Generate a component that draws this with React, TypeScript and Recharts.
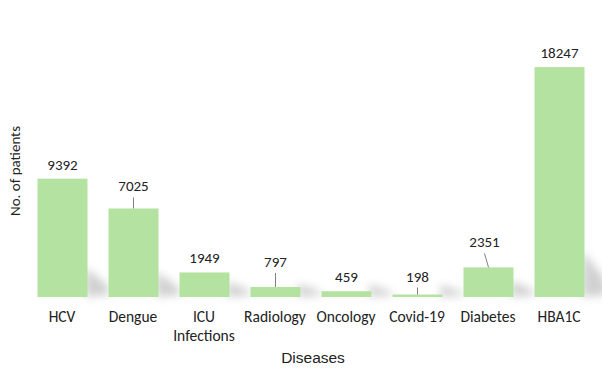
import React from 'react'
import { BarChart, Bar, XAxis, YAxis } from 'recharts';

const diseases = ['HCV', 'Dengue', 'ICU Infections', 'Radiology', 'Oncology', 'Covid-19', 'Diabetes', 'HBA1C'];
const patients = [9392, 7025, 1949, 797, 459, 198, 2351, 18247];

// how far some labels are pulled up (with a leader line), and sideways
const labelLift = [0, 8, 0, 11, 0, 4, 11, 0];
const labelShift = [0, 0, 0, 0, 0, 0, -4, 0];

const chartData = diseases.map((name, i) => ({ name, patients: patients[i] }));

const labelFont = 'Carlito, Lato, "Open Sans", sans-serif';

function BarWithShadow(props: any) {
  const { x, y, width, height, index, value } = props;
  const bottom = y + height;
  const right = x + width;
  const s = 12 + 0.15 * height;
  const lift = labelLift[index] || 0;
  const shift = labelShift[index] || 0;
  const cx = x + width / 2;
  const textY = y - 9 - lift;
  const val = Array.isArray(value) ? value[1] - value[0] : value;
  return (
    <g>
      <polygon
        points={`${right - 2},${bottom} ${right - 2},${bottom - s} ${right + 20},${bottom - s * 0.4} ${right + 22},${bottom - 2}`}
        fill="#9a9a9a"
        opacity={0.45}
        filter="url(#barShadow)"
      />
      <rect x={x} y={y} width={width} height={height} fill="#b4e3a1" />
      {lift > 0 && (
        <line x1={cx + shift} y1={textY + 6} x2={cx} y2={y} stroke="#7f7f7f" strokeWidth={1} />
      )}
      <text x={cx + shift} y={textY} textAnchor="middle" fontFamily={labelFont} fontSize={15} fill="#222">
        {val}
      </text>
    </g>
  );
}

function DiseaseTick(props: any) {
  const { x, y, payload } = props;
  const words = String(payload.value) === 'ICU Infections' ? ['ICU', 'Infections'] : [String(payload.value)];
  return (
    <text x={x} y={y + 25} textAnchor="middle" fontFamily={labelFont} fontSize={15.5} fill="#222">
      {words.map((w, i) => (
        <tspan key={w} x={x} dy={i === 0 ? 0 : 19}>{w}</tspan>
      ))}
    </text>
  );
}

function App() {
  return (
    <div style={{ position: 'absolute', left: 0, top: 0, background: '#fff' }}>
      <BarChart width={602} height={389} data={chartData} margin={{ top: 45, right: 7.5, bottom: 0, left: 0 }}>
        <defs>
          <filter id="barShadow" x="-50%" y="-50%" width="200%" height="200%">
            <feGaussianBlur stdDeviation="4" />
          </filter>
        </defs>
        <XAxis
          dataKey="name"
          height={92}
          axisLine={false}
          tickLine={false}
          tickSize={0}
          tickMargin={0}
          interval={0}
          tick={<DiseaseTick />}
          label={{
            content: () => (
              <text x={313} y={363} textAnchor="middle" fontFamily='"Liberation Sans", Arial, sans-serif' fontSize={15.5} fill="#222">
                Diseases
              </text>
            ),
          }}
        />
        <YAxis
          width={26.5}
          domain={[0, 20000]}
          tick={false}
          axisLine={false}
          tickLine={false}
          label={{
            content: () => (
              <text x={20} y={171} textAnchor="middle" transform="rotate(-90 20 171)" fontFamily={labelFont} fontSize={15} fill="#222">
                No. of patients
              </text>
            ),
          }}
        />
        <Bar dataKey="patients" barSize={50} shape={<BarWithShadow />} isAnimationActive={false} />
      </BarChart>
    </div>
  );
}

export default App
